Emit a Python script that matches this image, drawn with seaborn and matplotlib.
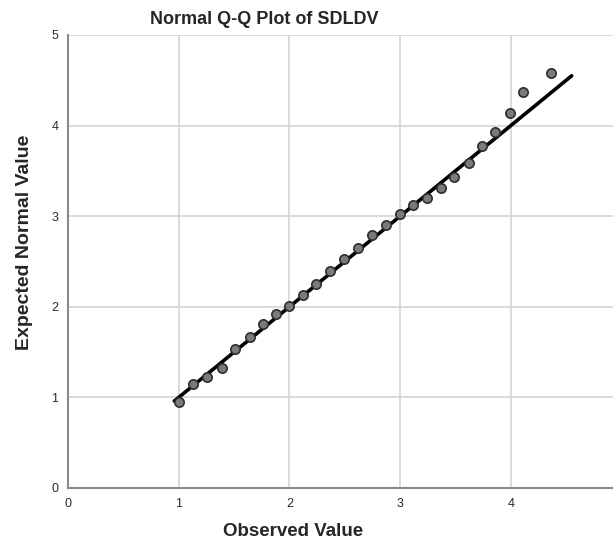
import pandas as pd
import matplotlib
matplotlib.use("Agg")
import matplotlib.pyplot as plt
import seaborn as sns

# Observed vs expected normal values
observed = [1.00, 1.13, 1.26, 1.39, 1.51, 1.64, 1.76, 1.88, 2.00, 2.12, 2.24, 2.37, 2.49, 2.62,
            2.75, 2.87, 3.00, 3.12, 3.24, 3.37, 3.49, 3.62, 3.74, 3.86, 3.99, 4.11, 4.36]
expected = [0.95, 1.15, 1.22, 1.33, 1.53, 1.67, 1.81, 1.92, 2.01, 2.13, 2.25, 2.40, 2.53, 2.65,
            2.79, 2.90, 3.02, 3.12, 3.20, 3.31, 3.43, 3.59, 3.77, 3.93, 4.14, 4.37, 4.58]

# reference line y = x
line_x = [0.96, 4.55]
line_y = [0.96, 4.55]

ticks = [0, 1, 2, 3, 4, 5]

df = pd.DataFrame({"Observed": observed, "Expected": expected})
line_df = pd.DataFrame({"x": line_x, "y": line_y})

sns.set_style("white")
plt.rcParams["font.family"] = ["Liberation Sans", "DejaVu Sans"]

fig = plt.figure(figsize=(6.13, 5.42), dpi=100)
ax = fig.add_axes([68 / 613, 54 / 542, 1 - 68 / 613, (488 - 35) / 542])

sns.lineplot(data=line_df, x="x", y="y", color="black", linewidth=2.6, ax=ax, zorder=2)
sns.scatterplot(data=df, x="Observed", y="Expected", s=45, color="#7a7a7a",
                edgecolor="#2e2e2e", linewidth=1.2, ax=ax, zorder=3)

ax.set_xlim(0, 545 / 110.7)
ax.set_ylim(0, 5)
ax.set_xticks(ticks[:-1])
ax.set_yticks(ticks)
ax.grid(True, color="#d4d4d4", linewidth=1.2)
ax.set_axisbelow(True)
for side in ["top", "right"]:
    ax.spines[side].set_visible(False)
for side in ["left", "bottom"]:
    ax.spines[side].set_color("#8a8a8a")
    ax.spines[side].set_linewidth(1.5)
ax.tick_params(length=0, labelsize=9, labelcolor="#2a2a2a", pad=7)
ax.set_xlabel("")
ax.set_ylabel("")

fig.text(264 / 613, 1 - 19 / 542, "Normal Q-Q Plot of SDLDV", ha="center", va="center",
         fontsize=13, fontweight="bold")
fig.text(293 / 613, 1 - 532 / 542, "Observed Value", ha="center", va="center",
         fontsize=13.5, fontweight="bold")
fig.text(25 / 613, 1 - 242 / 542, "Expected Normal Value", ha="center", va="center",
         rotation=90, fontsize=14, fontweight="bold")

fig.savefig("out.png", dpi=100)
